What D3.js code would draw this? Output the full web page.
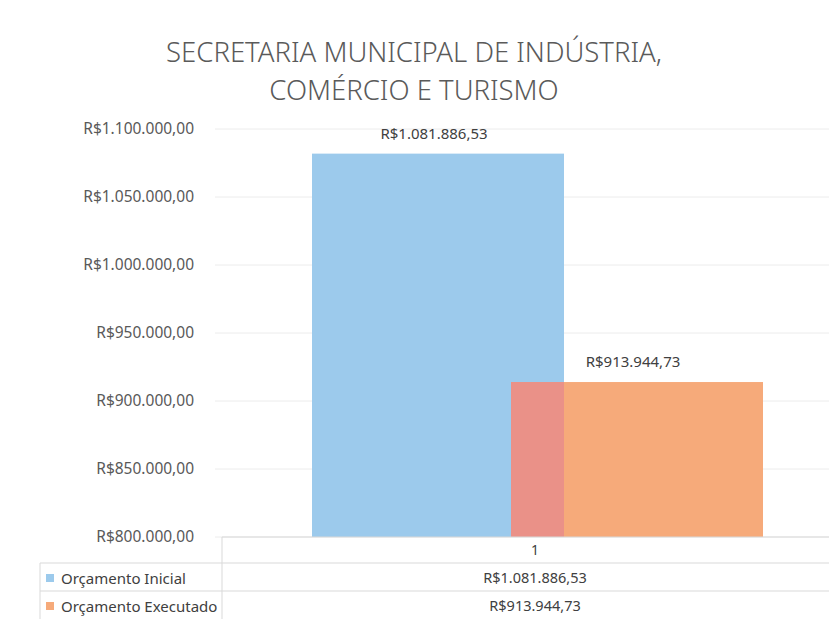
<!DOCTYPE html>
<html>
<head>
<meta charset="utf-8">
<script src="https://cdn.jsdelivr.net/npm/d3@7"></script>
<style>
  body { margin: 0; background: #fff; }
  text { font-family: "Noto Sans", "Open Sans", sans-serif; fill: #404040; }
</style>
</head>
<body>
<div id="chart"></div>
<script>
// chart data
var titleLines = ["SECRETARIA MUNICIPAL DE INDÚSTRIA,", "COMÉRCIO E TURISMO"];
var categories = ["1"];
var seriesNames = ["Orçamento Inicial", "Orçamento Executado"];
var seriesValues = [1081886.53, 913944.73];
var seriesLabels = ["R$1.081.886,53", "R$913.944,73"];
var yTicks = [800000, 850000, 900000, 950000, 1000000, 1050000, 1100000];
var colors = ["#9ccaec", "#f6aa7a"];
var overlapColor = "#ea9188";

var width = 829, height = 619;
var plot = {left: 222, right: 848, top: 129, bottom: 537};

var svg = d3.select("#chart").append("svg")
    .attr("width", width)
    .attr("height", height);

// format like R$1.100.000,00
function brl(v) {
  var s = d3.format(",.2f")(v);
  s = s.replace(/,/g, "#").replace(/\./g, ",").replace(/#/g, ".");
  return "R$" + s;
}

var y = d3.scaleLinear().domain([800000, 1100000]).range([plot.bottom, plot.top]);
var x = d3.scaleBand().domain(categories).range([plot.left, plot.right]);

// series offsets inside the band (bars overlap)
var barW = 252;
var xs = d3.scaleOrdinal().domain(seriesNames).range([90, 289]);

// title
svg.append("g").selectAll("text")
  .data(titleLines)
  .enter().append("text")
    .attr("x", 414)
    .attr("y", function(d, i) { return 62 + i * 38; })
    .attr("text-anchor", "middle")
    .style("font-size", "27.5px")
    .style("font-weight", 300)
    .style("fill", "#5a5a5a")
    .text(function(d) { return d; });

// gridlines
svg.append("g").selectAll("line")
  .data(yTicks)
  .enter().append("line")
    .attr("x1", 215).attr("x2", width)
    .attr("y1", function(d) { return y(d); })
    .attr("y2", function(d) { return y(d); })
    .attr("stroke", "#ececec");

// y axis labels
var yAxis = d3.axisLeft(y).tickValues(yTicks).tickFormat(brl).tickSize(0).tickPadding(0);
var ga = svg.append("g")
    .attr("transform", "translate(194,0)")
    .call(yAxis);
ga.select(".domain").remove();
ga.selectAll("text")
    .style("font-size", "15.5px")
    .style("fill", "#595959")
    .style("font-family", "'Noto Sans', sans-serif");

// bars
var bars = seriesNames.map(function(s, i) {
  var bx = x(categories[0]) + xs(s);
  return {name: s, x: bx, y: y(seriesValues[i]), w: barW, h: y(800000) - y(seriesValues[i]), c: colors[i], label: seriesLabels[i]};
});

svg.append("g").selectAll("rect")
  .data(bars)
  .enter().append("rect")
    .attr("x", function(d) { return d.x; })
    .attr("y", function(d) { return d.y; })
    .attr("width", function(d) { return d.w; })
    .attr("height", function(d) { return d.h; })
    .attr("fill", function(d) { return d.c; });

// overlap of the two bars
var ox0 = Math.max(bars[0].x, bars[1].x), ox1 = Math.min(bars[0].x + bars[0].w, bars[1].x + bars[1].w);
var oy0 = Math.max(bars[0].y, bars[1].y);
svg.append("rect")
    .attr("x", ox0).attr("y", oy0)
    .attr("width", ox1 - ox0)
    .attr("height", y(800000) - oy0)
    .attr("fill", overlapColor);

// data labels
svg.append("g").selectAll("text")
  .data(bars)
  .enter().append("text")
    .attr("x", function(d) { return d.x + d.w / 2 - 4; })
    .attr("y", function(d) { return d.y - 15; })
    .attr("text-anchor", "middle")
    .style("font-size", "15px")
    .style("fill", "#404040")
    .text(function(d) { return d.label; });

// data table
var rowY = [537, 563, 591, 619];
var tbl = svg.append("g").attr("stroke", "#d9d9d9").attr("stroke-width", 1);
tbl.append("line").attr("x1", plot.left).attr("x2", width).attr("y1", rowY[0]).attr("y2", rowY[0]);
tbl.append("line").attr("x1", 40).attr("x2", width).attr("y1", rowY[1]).attr("y2", rowY[1]);
tbl.append("line").attr("x1", 40).attr("x2", width).attr("y1", rowY[2]).attr("y2", rowY[2]);
tbl.append("line").attr("x1", plot.left).attr("x2", plot.left).attr("y1", rowY[0]).attr("y2", height);
tbl.append("line").attr("x1", 40).attr("x2", 40).attr("y1", rowY[1]).attr("y2", height);

var colCenter = x(categories[0]) + x.bandwidth() / 2;
svg.append("text")
    .attr("x", colCenter).attr("y", 555)
    .attr("text-anchor", "middle")
    .style("font-size", "14px")
    .text(categories[0]);

var rows = svg.append("g").selectAll("g")
  .data(seriesNames)
  .enter().append("g")
    .attr("transform", function(d, i) { return "translate(0," + (rowY[i + 1] + 21) + ")"; });

rows.append("rect")
    .attr("x", 46).attr("y", -10)
    .attr("width", 8).attr("height", 8)
    .attr("fill", function(d, i) { return colors[i]; });

rows.append("text")
    .attr("x", 61).attr("y", 0)
    .style("font-size", "15px")
    .text(function(d) { return d; });

rows.append("text")
    .attr("x", colCenter).attr("y", -1)
    .attr("text-anchor", "middle")
    .style("font-size", "14.5px")
    .text(function(d, i) { return seriesLabels[i]; });
</script>
</body>
</html>
